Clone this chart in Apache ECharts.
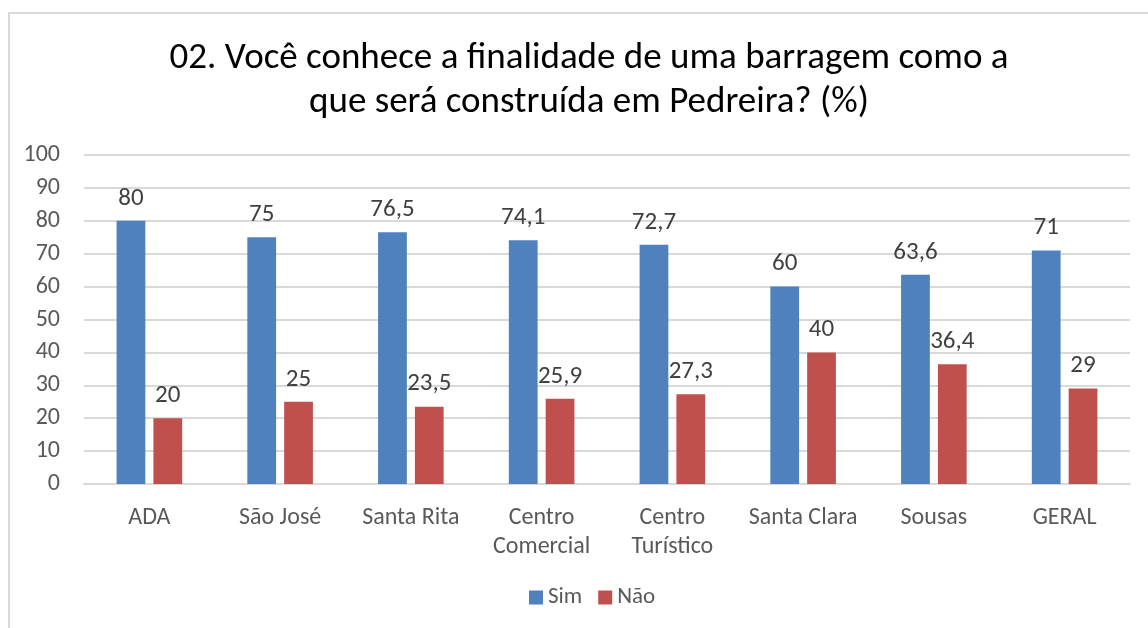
<!DOCTYPE html>
<html>
<head>
<meta charset="utf-8">
<script src="https://cdn.jsdelivr.net/npm/echarts@6/dist/echarts.min.js"></script>
<style>
  html, body { margin: 0; padding: 0; background: #fff; }
  #frame { position: absolute; left: 8px; top: 12px; width: 1160px; height: 640px; border: 2px solid #d9d9d9; box-sizing: border-box; }
  #chart { position: absolute; left: 0; top: 0; width: 1148px; height: 628px; }
</style>
</head>
<body>
<div id="frame"></div>
<div id="chart"></div>
<script>
// dados
const categorias = ['ADA', 'São José', 'Santa Rita', 'Centro\nComercial', 'Centro\nTurístico', 'Santa Clara', 'Sousas', 'GERAL']
const sim = [80, 75, 76.5, 74.1, 72.7, 60, 63.6, 71]
const nao = [20, 25, 23.5, 25.9, 27.3, 40, 36.4, 29]
const yTicks = [0, 10, 20, 30, 40, 50, 60, 70, 80, 90, 100]

const fonte = 'Carlito, "Open Sans", "Liberation Sans", sans-serif'
const chart = echarts.init(document.getElementById('chart'))

const rotulo = {
  show: true,
  position: 'top',
  distance: 10,
  color: '#404040',
  fontSize: 25,
  fontFamily: fonte,
  formatter: p => String(p.value).replace('.', ',')
}

const option = {
  animation: false,
  title: {
    text: '02. Você conhece a finalidade de uma barragem como a\nque será construída em Pedreira? (%)',
    left: 584,
    textAlign: 'center',
    top: 32,
    textStyle: {
      fontFamily: fonte,
      fontSize: 37,
      fontWeight: 'normal',
      color: '#000',
      lineHeight: 44
    }
  },
  legend: {
    bottom: 14,
    left: 524,
    itemWidth: 14,
    itemHeight: 14,
    itemGap: 16,
    icon: 'rect',
    textStyle: { fontFamily: fonte, fontSize: 23, color: '#595959' },
    data: ['Sim', 'Não']
  },
  grid: { left: 84, right: 18, top: 155, bottom: 144 },
  xAxis: {
    type: 'category',
    data: categorias,
    axisLine: { lineStyle: { color: '#d9d9d9', width: 2 } },
    axisTick: { show: false },
    axisLabel: {
      color: '#595959',
      fontSize: 24,
      fontFamily: fonte,
      margin: 19,
      lineHeight: 29,
      interval: 0
    }
  },
  yAxis: {
    type: 'value',
    min: yTicks[0],
    max: yTicks[yTicks.length - 1],
    interval: 10,
    axisLine: { show: false },
    axisTick: { show: false },
    splitLine: { lineStyle: { color: '#d9d9d9', width: 2 } },
    axisLabel: { color: '#595959', fontSize: 24, fontFamily: fonte, margin: 24 }
  },
  series: [
    {
      name: 'Sim',
      type: 'bar',
      data: sim,
      barWidth: '22%',
      barGap: '28%',
      itemStyle: { color: '#4f81bd' },
      label: rotulo
    },
    {
      name: 'Não',
      type: 'bar',
      data: nao,
      barWidth: '22%',
      itemStyle: { color: '#c0504d' },
      label: rotulo
    }
  ]
}

chart.setOption(option)
</script>
</body>
</html>
